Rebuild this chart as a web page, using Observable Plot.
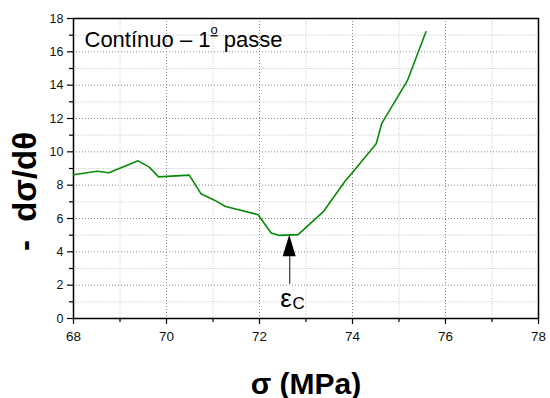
<!DOCTYPE html>
<html>
<head>
<meta charset="utf-8">
<script src="https://cdn.jsdelivr.net/npm/d3@7"></script>
<script src="https://cdn.jsdelivr.net/npm/@observablehq/plot@0.6"></script>
<style>
  html, body { margin: 0; padding: 0; background: #fff; }
  svg { font-family: "Liberation Sans", Arial, sans-serif; }
</style>
</head>
<body>
<div id="chart"></div>
<script>
// Data
const sigma = [68.00, 68.51, 68.76, 69.39, 69.63, 69.83, 70.49, 70.74, 71.01, 71.27, 71.97, 72.25, 72.41, 72.83, 73.38, 73.85, 73.96, 74.51, 74.63, 75.18, 75.58];
const dsdth = [8.62, 8.84, 8.74, 9.46, 9.08, 8.50, 8.60, 7.49, 7.13, 6.72, 6.23, 5.13, 4.99, 5.03, 6.43, 8.28, 8.62, 10.48, 11.71, 14.27, 17.20];

const xMajorTicks = [68, 70, 72, 74, 76, 78];
const xMinorTicks = [69, 71, 73, 75, 77];
const yMajorTicks = [0, 2, 4, 6, 8, 10, 12, 14, 16, 18];
const yMinorTicks = [1, 3, 5, 7, 9, 11, 13, 15, 17];

const titleMain = "Contínuo – 1";
const titleOrdinal = "o";
const titleRest = " passe";
const titleText = titleMain + "º" + titleRest;
const xLabel = "σ (MPa)";
const yLabel = "-\u00A0\u00A0dσ/dθ";

// critical point marker
const arrowX = 72.65;
const arrowTip = 5.0;
const arrowHeadBase = 3.7;
const arrowTail = 2.05;
const arrowHalfWidth = 0.14;
const epsLabel = {x: 72.57, y: 1.19, text: "ε"};
const epsSub = {x: 72.84, y: 0.88, text: "C"};

const data = sigma.map((s, i) => ({x: s, y: dsdth[i]}));
const head = [
  {x: arrowX - arrowHalfWidth, y2: arrowHeadBase},
  {x: arrowX, y2: arrowTip},
  {x: arrowX + arrowHalfWidth, y2: arrowHeadBase}
];

const chart = Plot.plot({
  width: 550,
  height: 398,
  marginLeft: 73,
  marginRight: 12,
  marginTop: 18,
  marginBottom: 80,
  style: {fontFamily: "'Liberation Sans', Arial, sans-serif", background: "#fff", color: "#111"},
  x: {domain: [68, 78]},
  y: {domain: [0, 18]},
  marks: [
    // grid
    Plot.ruleX(xMinorTicks, {stroke: "#c8c8c8", strokeDasharray: "1,1.5", strokeWidth: 1}),
    Plot.ruleY(yMinorTicks, {stroke: "#c8c8c8", strokeDasharray: "1,1.5", strokeWidth: 1}),
    Plot.ruleX(xMajorTicks, {stroke: "#8a8a8a", strokeDasharray: "1,2", strokeWidth: 1}),
    Plot.ruleY(yMajorTicks, {stroke: "#8a8a8a", strokeDasharray: "1,2", strokeWidth: 1}),
    // axes
    Plot.axisX(xMajorTicks, {tickSize: 6, tickPadding: 7, fontSize: 13.5, label: null, stroke: "#000", strokeWidth: 1.2}),
    Plot.axisX(xMinorTicks, {tickSize: 4, tickFormat: () => "", label: null, stroke: "#000", strokeWidth: 1.2}),
    Plot.axisY(yMajorTicks, {tickSize: 6, tickPadding: 4, fontSize: 12.5, label: null, stroke: "#000", strokeWidth: 1.2}),
    Plot.axisY(yMinorTicks, {tickSize: 4, tickFormat: () => "", label: null, stroke: "#000", strokeWidth: 1.2}),
    Plot.frame({stroke: "#000", strokeWidth: 1.5}),
    // curve
    Plot.line(data, {x: "x", y: "y", stroke: "#078a07", strokeWidth: 1.6}),
    // arrow
    Plot.ruleX([arrowX], {y1: arrowTail, y2: arrowHeadBase, stroke: "#333", strokeWidth: 1.2}),
    Plot.areaY(head, {x: "x", y1: arrowHeadBase, y2: "y2", fill: "#000"}),
    Plot.text([epsLabel], {x: "x", y: "y", text: "text", fontSize: 26, fill: "#000"}),
    Plot.text([epsSub], {x: "x", y: "y", text: "text", fontSize: 17, fill: "#000"}),
    // title inside the plot
    Plot.text([titleText], {frameAnchor: "top-left", textAnchor: "start", lineAnchor: "top", dx: 11, dy: 13, fontSize: 22, fill: "#000"}),
    // axis labels
    Plot.text([xLabel], {frameAnchor: "bottom", lineAnchor: "bottom", dy: 75, fontSize: 30, fontWeight: "bold", fill: "#000"}),
    Plot.text([yLabel], {frameAnchor: "left", textAnchor: "middle", rotate: -90, dx: -48, dy: 23, fontSize: 33, fontWeight: "bold", fill: "#000"})
  ]
});

// render the ordinal indicator as a small underlined superscript "o"
d3.select(chart).selectAll("text").each(function () {
  if (this.textContent === titleText) {
    const t = d3.select(this);
    t.text(null);
    t.append("tspan").text(titleMain);
    t.append("tspan").attr("dy", "-13").attr("font-size", 13).attr("text-decoration", "underline").text(titleOrdinal);
    t.append("tspan").attr("dy", "13").text(titleRest);
  }
});

document.getElementById("chart").appendChild(chart);
</script>
</body>
</html>
